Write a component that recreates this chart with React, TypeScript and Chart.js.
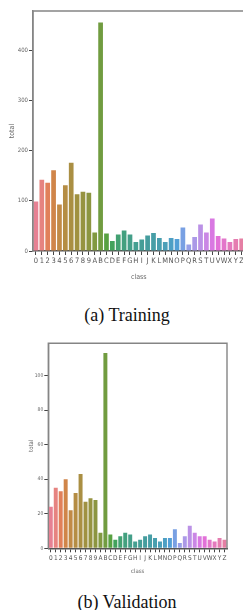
import React, { useEffect, useRef } from "react";
import { Chart, registerables } from "chart.js";

Chart.register(...registerables);

const classes = [
  "0", "1", "2", "3", "4", "5", "6", "7", "8", "9",
  "A", "B", "C", "D", "E", "F", "G", "H", "I", "J", "K", "L", "M",
  "N", "O", "P", "Q", "R", "S", "T", "U", "V", "W", "X", "Y", "Z",
];

const trainingTotals = [
  99, 142, 136, 161, 93, 131, 176, 113, 118, 116,
  37, 456, 35, 20, 33, 41, 33, 18, 23, 31, 36, 26, 18,
  26, 24, 47, 13, 28, 53, 37, 65, 30, 25, 18, 24, 25,
];

const validationTotals = [
  24, 35, 33, 40, 22, 32, 43, 27, 29, 28,
  9, 113, 8, 5, 7, 9, 8, 4, 5, 7, 8, 6, 4,
  6, 6, 11, 3, 7, 13, 9, 7, 7, 5, 4, 6, 5,
];

const trainingYTicks = [0, 100, 200, 300, 400];
const validationYTicks = [0, 20, 40, 60, 80, 100];

// ---- HUSL palette (seaborn style) ----
const M = [
  [3.2406, -1.5372, -0.4986],
  [-0.9689, 1.8758, 0.0415],
  [0.0557, -0.204, 1.057],
];
const refU = 0.19784;
const refV = 0.46834;
const labE = 0.008856;
const labK = 903.3;

function maxChroma(L: number, H: number) {
  const hrad = (H / 360) * 2 * Math.PI;
  const sinH = Math.sin(hrad);
  const cosH = Math.cos(hrad);
  const sub1 = Math.pow(L + 16, 3) / 1560896;
  const sub2 = sub1 > labE ? sub1 : L / labK;
  let result = Infinity;
  for (const [m1, m2, m3] of M) {
    const top = (0.99915 * m1 + 1.05122 * m2 + 1.1446 * m3) * sub2;
    const rb = 0.8633 * m3 - 0.17266 * m2;
    const lb = 0.12949 * m3 - 0.38848 * m1;
    const bottom = (rb * sinH + lb * cosH) * sub2;
    for (const t of [0, 1]) {
      const C = (L * (top - 1.05122 * t)) / (bottom + 0.17266 * sinH * t);
      if (C > 0 && C < result) result = C;
    }
  }
  return result;
}

function fromLinear(c: number) {
  return c <= 0.0031308 ? 12.92 * c : 1.055 * Math.pow(c, 1 / 2.4) - 0.055;
}

function huslToRgb(H: number, S: number, L: number): number[] {
  const C = (maxChroma(L, H) / 100) * S;
  const hrad = (H / 360) * 2 * Math.PI;
  const U = Math.cos(hrad) * C;
  const V = Math.sin(hrad) * C;
  const t = (L + 16) / 116;
  const varY = t * t * t > labE ? t * t * t : (116 * t - 16) / labK;
  const varU = U / (13 * L) + refU;
  const varV = V / (13 * L) + refV;
  const Y = varY;
  const X = 0 - (9 * Y * varU) / ((varU - 4) * varV - varU * varV);
  const Z = (9 * Y - 15 * varV * Y - varV * X) / (3 * varV);
  return M.map(([a, b, c]) => Math.min(1, Math.max(0, fromLinear(a * X + b * Y + c * Z))));
}

function rgbToHls(r: number, g: number, b: number) {
  const maxc = Math.max(r, g, b);
  const minc = Math.min(r, g, b);
  const l = (minc + maxc) / 2;
  if (minc === maxc) return [0, l, 0];
  const s = l <= 0.5 ? (maxc - minc) / (maxc + minc) : (maxc - minc) / (2 - maxc - minc);
  const rc = (maxc - r) / (maxc - minc);
  const gc = (maxc - g) / (maxc - minc);
  const bc = (maxc - b) / (maxc - minc);
  let h;
  if (r === maxc) h = bc - gc;
  else if (g === maxc) h = 2 + rc - bc;
  else h = 4 + gc - rc;
  h = ((h / 6) % 1 + 1) % 1;
  return [h, l, s];
}

function hlsV(m1: number, m2: number, hue: number) {
  hue = ((hue % 1) + 1) % 1;
  if (hue < 1 / 6) return m1 + (m2 - m1) * hue * 6;
  if (hue < 0.5) return m2;
  if (hue < 2 / 3) return m1 + (m2 - m1) * (2 / 3 - hue) * 6;
  return m1;
}

function hlsToRgb(h: number, l: number, s: number) {
  if (s === 0) return [l, l, l];
  const m2 = l <= 0.5 ? l * (1 + s) : l + s - l * s;
  const m1 = 2 * l - m2;
  return [hlsV(m1, m2, h + 1 / 3), hlsV(m1, m2, h), hlsV(m1, m2, h - 1 / 3)];
}

function palette(n: number) {
  const out: string[] = [];
  for (let i = 0; i < n; i++) {
    let h = i / n + 0.01;
    h = (h % 1) * 359;
    const [r, g, b] = huslToRgb(h, 0.9 * 99, 0.65 * 99);
    const [hh, ll, ss] = rgbToHls(r, g, b);
    const [r2, g2, b2] = hlsToRgb(hh, ll, ss * 0.75);
    out.push(`rgb(${Math.round(r2 * 255)},${Math.round(g2 * 255)},${Math.round(b2 * 255)})`);
  }
  return out;
}

const barColors = palette(classes.length);

const NARROW = "'Liberation Sans Narrow', 'DejaVu Sans Condensed', 'Arial Narrow', sans-serif";

type PanelProps = {
  values: number[];
  yTicks: number[];
  yMax: number;
  top: number;
  width: number;
  height: number;
  area: { left: number; top: number; right: number; bottom: number };
  xFont: number;
  yFont: number;
  titleFont: number;
  yTitleX: number;
  xTitleOffset: number;
};

function BarPanel(p: PanelProps) {
  const ref = useRef<HTMLCanvasElement | null>(null);
  useEffect(() => {
    if (!ref.current) return;
    const framePlugin = {
      id: "frame",
      afterDraw(chart: any) {
        const { ctx, chartArea } = chart;
        ctx.save();
        ctx.strokeStyle = "#858585";
        ctx.lineWidth = 1.4;
        ctx.beginPath();
        ctx.moveTo(chartArea.left, chartArea.bottom);
        ctx.lineTo(chartArea.left, chartArea.top);
        ctx.lineTo(chartArea.right, chartArea.top);
        ctx.lineTo(chartArea.right, chartArea.bottom);
        ctx.stroke();
        ctx.fillStyle = "#666";
        ctx.font = `${p.titleFont}px ${NARROW}`;
        ctx.textAlign = "center";
        ctx.textBaseline = "middle";
        ctx.fillText("class", (chartArea.left + chartArea.right) / 2, chartArea.bottom + p.xTitleOffset);
        ctx.translate(p.yTitleX, (chartArea.top + chartArea.bottom) / 2);
        ctx.rotate(-Math.PI / 2);
        ctx.fillText("total", 0, 0);
        ctx.restore();
      },
    };
    const chart = new Chart(ref.current, {
      type: "bar",
      data: {
        labels: classes,
        datasets: [
          {
            data: p.values,
            backgroundColor: barColors,
            borderWidth: 0,
            barPercentage: 0.8,
            categoryPercentage: 1.0,
          },
        ],
      },
      options: {
        animation: false,
        responsive: false,
        maintainAspectRatio: false,
        devicePixelRatio: 1,
        layout: {
          padding: { left: 0, top: p.area.top, right: p.width - p.area.right, bottom: 0 },
        },
        plugins: { legend: { display: false }, tooltip: { enabled: false }, title: { display: false } },
        scales: {
          x: {
            type: "category",
            offset: true,
            afterFit: (s: any) => {
              s.height = p.height - p.area.bottom;
            },
            grid: {
              display: true,
              drawOnChartArea: false,
              drawTicks: true,
              tickLength: 4,
              tickColor: "#444",
              offset: false,
            },
            border: { display: true, color: "#555", width: 1.4 },
            ticks: {
              autoSkip: false,
              maxRotation: 0,
              minRotation: 0,
              padding: 2,
              color: "#555",
              font: { family: NARROW, size: p.xFont },
            },
          },
          y: {
            type: "linear",
            min: 0,
            max: p.yMax,
            afterFit: (s: any) => {
              s.width = p.area.left;
            },
            afterBuildTicks: (s: any) => {
              s.ticks = p.yTicks.map((v) => ({ value: v }));
            },
            grid: {
              display: true,
              drawOnChartArea: false,
              drawTicks: true,
              tickLength: 4,
              tickColor: "#444",
            },
            border: { display: true, color: "#858585", width: 1.4 },
            ticks: {
              padding: 1,
              color: "#666",
              font: { family: NARROW, size: p.yFont },
            },
          },
        },
      },
      plugins: [framePlugin],
    } as any);
    return () => chart.destroy();
  }, []);
  return (
    <canvas
      ref={ref}
      width={p.width}
      height={p.height}
      style={{ position: "absolute", left: 0, top: p.top, width: p.width, height: p.height }}
    />
  );
}

const captionStyle: React.CSSProperties = {
  position: "absolute",
  left: 27,
  width: 200,
  textAlign: "center",
  fontFamily: "'Liberation Serif', 'DejaVu Serif', serif",
  fontSize: 18,
  lineHeight: "20px",
  color: "#111",
};

export default function App() {
  return (
    <div
      style={{
        position: "absolute",
        left: 0,
        top: 0,
        width: 243,
        height: 610,
        overflow: "hidden",
        background: "#fff",
      }}
    >
      <BarPanel
        values={trainingTotals}
        yTicks={trainingYTicks}
        yMax={trainingTotals[11] * 1.05}
        top={0}
        width={246}
        height={290}
        area={{ left: 33, top: 11, right: 244.6, bottom: 251 }}
        xFont={7.5}
        yFont={6}
        titleFont={7}
        yTitleX={12}
        xTitleOffset={26}
      />
      <div style={{ ...captionStyle, top: 305 }}>(a) Training</div>
      <BarPanel
        values={validationTotals}
        yTicks={validationYTicks}
        yMax={validationTotals[11] * 1.05}
        top={330}
        width={243}
        height={260}
        area={{ left: 48.3, top: 13.3, right: 227, bottom: 218.3 }}
        xFont={6.5}
        yFont={5}
        titleFont={6}
        yTitleX={31}
        xTitleOffset={23.5}
      />
      <div style={{ ...captionStyle, top: 592 }}>(b) Validation</div>
    </div>
  );
}
